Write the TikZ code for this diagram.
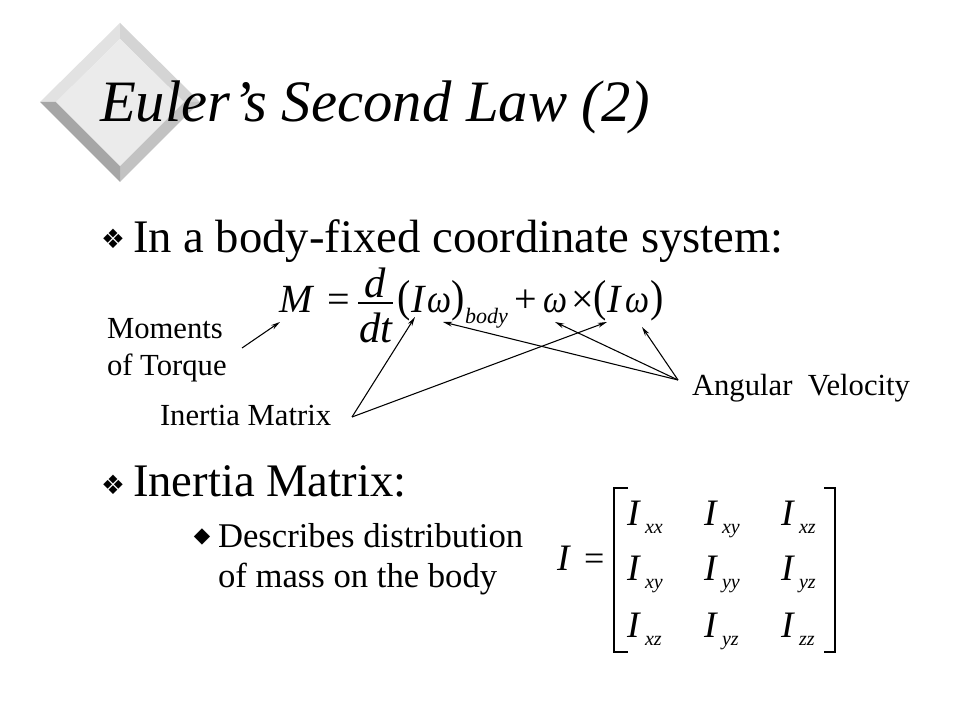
\documentclass[tikz,border=0pt]{standalone}
\usepackage{fontspec}
\setmainfont{Liberation Serif}
\newfontfamily\djv{DejaVu Sans}
\usetikzlibrary{arrows.meta}
\definecolor{bevTL}{HTML}{E2E2E2}
\definecolor{bevTR}{HTML}{D4D4D4}
\definecolor{bevBR}{HTML}{C2C2C2}
\definecolor{bevBL}{HTML}{A6A6A6}
\definecolor{face}{HTML}{EBEBEB}
\newcommand{\fs}[1]{\fontsize{#1pt}{#1pt}\selectfont}
\newcommand{\tallp}[1]{\scalebox{1}[1.12]{#1}}
\newcommand{\nw}{\scalebox{0.85}[1]{ω}}
\tikzset{
  txt/.style={inner sep=0pt, outer sep=0pt, anchor=base west},
  titlefont/.style={txt, font=\fs{44}\itshape},
  bodyfont/.style={txt, font=\fs{35}},
  subfont/.style={txt, font=\fs{26}},
  lblfont/.style={txt, font=\fs{23}},
  eqfont/.style={txt, font=\fs{30}},
  eqit/.style={txt, font=\fs{30}\itshape},
  fracit/.style={inner sep=0pt, outer sep=0pt, anchor=base, font=\fs{32}\itshape},
  parfont/.style={txt, font=\fs{30}},
  subsc/.style={txt, font=\fs{16.5}\itshape},
  mxit/.style={txt, font=\fs{28}\itshape},
  mxsub/.style={txt, font=\fs{15}\itshape},
  bulletA/.style={inner sep=0pt, font=\djv\fs{20}},
  bulletB/.style={inner sep=0pt, font=\djv\fs{16}},
  conn/.style={draw, line width=0.8pt, -{Stealth[length=7pt,width=3.6pt]}},
  brk/.style={draw, line width=2.2pt, line cap=butt, line join=miter}
}
\begin{document}
\begin{tikzpicture}[x=0.75pt, y=-0.75pt]
\useasboundingbox (0,0) rectangle (960,720);
\fill[white] (0,0) rectangle (960,720);
% diamond logo
\coordinate (dT) at (120,23);  \coordinate (dR) at (200,102);
\coordinate (dB) at (120,182); \coordinate (dL) at (40,102);
\coordinate (iT) at (120,39);  \coordinate (iR) at (184,102);
\coordinate (iB) at (120,166); \coordinate (iL) at (56,102);
\fill[bevTL] (dL) -- (dT) -- (iT) -- (iL) -- cycle;
\fill[bevTR] (dT) -- (dR) -- (iR) -- (iT) -- cycle;
\fill[bevBR] (dR) -- (dB) -- (iB) -- (iR) -- cycle;
\fill[bevBL] (dB) -- (dL) -- (iL) -- (iB) -- cycle;
\fill[face] (iT) -- (iR) -- (iB) -- (iL) -- cycle;
% title
\node[titlefont] (title) at (100,122) {Euler’s Second Law (2)};
% bullet 1
\node[bulletA] (b1) at (113,239) {❖};
\node[bodyfont] (t1) at (133,253) {In a body-fixed coordinate system:};
% equation
\node[eqit] (M) at (279,312) {M};
\node[eqfont] (eq1) at (327,312) {=};
\node[fracit] (fd) at (375,297) {d};
\draw[line width=1.5pt] (358,303) -- (393,303);
\node[fracit] (fdt) at (376,342) {dt};
\node[parfont] (p1) at (397,311) {\tallp{(}};
\node[eqit] (I1) at (411,312) {I};
\node[eqit] (w1) at (427,312) {\nw};
\node[parfont] (p2) at (451,311) {\tallp{)}};
\node[subsc] (body) at (465,323) {body};
\node[eqfont] (plus) at (514,312) {+};
\node[eqit] (w2) at (543,312) {\nw};
\node[eqfont] (times) at (571,312) {×};
\node[parfont] (p3) at (593,311) {\tallp{(}};
\node[eqit] (I2) at (607,312) {I};
\node[eqit] (w3) at (625,312) {\nw};
\node[parfont] (p4) at (650,311) {\tallp{)}};
% labels
\node[lblfont] (mom1) at (107,338) {Moments};
\node[lblfont] (mom2) at (107,375) {of Torque};
\node[lblfont] (inm) at (160,425) {Inertia Matrix};
\node[lblfont] (angv) at (692,395) {Angular\ \ Velocity};
% connector points
\coordinate (cMs) at (242,348);
\coordinate (cMt) at (280,322);
\coordinate (cI) at (352,417);
\coordinate (cA) at (678,380);
\coordinate (tI1) at (415,317);
\coordinate (tw1) at (443,322);
\coordinate (tw2) at (555,322);
\coordinate (tI2) at (607,322);
\coordinate (tw3) at (642,327);
\draw[conn] (cMs) -- (cMt);
\draw[conn] (cI) -- (tI1);
\draw[conn] (cI) -- (tI2);
\draw[conn] (cA) -- (tw1);
\draw[conn] (cA) -- (tw2);
\draw[conn] (cA) -- (tw3);
% bullet 2
\node[bulletA] (b2) at (113,485) {❖};
\node[bodyfont] (t2) at (133,496) {Inertia Matrix:};
\node[bulletB] (b3) at (202,537) {◆};
\node[subfont] (t3) at (218,547) {Describes distribution};
\node[subfont] (t4) at (218,587) {of mass on the body};
% matrix
\node[mxit] (Imat) at (557,570) {I};
\node[eqfont, font=\fs{27}] (eq2) at (584,570) {=};
\draw[brk] (628,488) -- (614,488) -- (614,652) -- (628,652);
\draw[brk] (824,488) -- (835,488) -- (835,652) -- (824,652);
\foreach \r/\yy/\sa/\sb/\sc in {1/525/xx/xy/xz, 2/580/xy/yy/yz, 3/637/xz/yz/zz}{
  \node[mxit] (m\r a) at (627,\yy) {I};
  \node[mxsub] (s\r a) at (645,\yy+8) {\sa};
  \node[mxit] (m\r b) at (704,\yy) {I};
  \node[mxsub] (s\r b) at (722,\yy+8) {\sb};
  \node[mxit] (m\r c) at (781,\yy) {I};
  \node[mxsub] (s\r c) at (799,\yy+8) {\sc};
}
\end{tikzpicture}
\end{document}
